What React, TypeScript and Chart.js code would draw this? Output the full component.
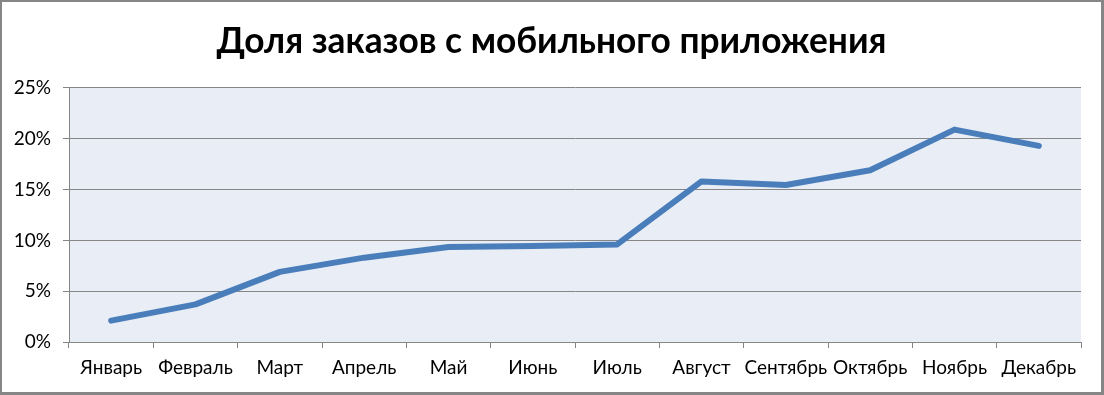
import React, { useEffect, useRef } from "react";
import { Chart, registerables } from "chart.js";

Chart.register(...registerables);

const titleText = "Доля заказов с мобильного приложения";
const months = [
  "Январь", "Февраль", "Март", "Апрель", "Май", "Июнь",
  "Июль", "Август", "Сентябрь", "Октябрь", "Ноябрь", "Декабрь",
];
const sharePercent = [2.1, 3.7, 6.9, 8.3, 9.35, 9.45, 9.6, 15.8, 15.45, 16.9, 20.9, 19.3];
const yMin = 0;
const yMax = 25;
const yStep = 5;

const W = 1099;
const H = 390;

const plotBg = {
  id: "plotBg",
  beforeDraw(chart: any) {
    const { ctx, chartArea } = chart;
    ctx.save();
    ctx.fillStyle = "#E9EDF5";
    ctx.fillRect(chartArea.left, chartArea.top, chartArea.right - chartArea.left, chartArea.bottom - chartArea.top);
    ctx.restore();
  },
};

export default function App() {
  const ref = useRef<HTMLCanvasElement | null>(null);
  useEffect(() => {
    if (!ref.current) return;
    const chart = new Chart(ref.current, {
      type: "line",
      data: {
        labels: months,
        datasets: [
          {
            data: sharePercent,
            borderColor: "#4A7EBB",
            backgroundColor: "#4A7EBB",
            borderWidth: 6,
            borderJoinStyle: "round",
            borderCapStyle: "round",
            pointRadius: 0,
            tension: 0,
            fill: false,
          },
        ],
      },
      options: {
        responsive: false,
        animation: false,
        devicePixelRatio: 1,
        layout: { padding: 0 },
        plugins: {
          legend: { display: false },
          tooltip: { enabled: false },
          title: {
            display: true,
            text: titleText,
            color: "#000",
            font: { family: "Lato", size: 35.3, weight: "bold", lineHeight: 1.2 },
            padding: { top: 18, bottom: 25.6 },
          },
        },
        scales: {
          x: {
            offset: true,
            grid: {
              offset: true,
              drawOnChartArea: false,
              drawTicks: true,
              tickLength: 6,
              color: "#868686",
            },
            border: { display: true, color: "#868686", width: 1 },
            ticks: {
              color: "#000",
              font: { family: "Lato", size: 19 },
              padding: 8,
              maxRotation: 0,
              autoSkip: false,
            },
            afterFit(scale: any) {
              scale.height = 50;
            },
          },
          y: {
            min: yMin,
            max: yMax,
            grid: { color: "#868686", tickLength: 6, lineWidth: 1 },
            border: { display: true, color: "#868686", width: 1 },
            ticks: {
              stepSize: yStep,
              color: "#000",
              font: { family: "Lato", size: 19 },
              padding: 12,
              callback: (v: any) => `${v}%`,
            },
            afterFit(scale: any) {
              scale.width = 67;
            },
          },
          yRight: {
            position: "right",
            min: yMin,
            max: yMax,
            grid: { display: false, drawTicks: false },
            border: { display: false },
            ticks: { display: false },
            afterFit(scale: any) {
              scale.width = 20;
            },
          },
        },
      },
      plugins: [plotBg],
    });
    return () => chart.destroy();
  }, []);

  return (
    <div
      style={{
        position: "absolute",
        left: 0,
        top: 0,
        width: 1104,
        height: 395,
        boxSizing: "border-box",
        borderStyle: "solid",
        borderColor: "#868686",
        borderWidth: "2px 3px 3px 2px",
        background: "#fff",
      }}
    >
      <canvas ref={ref} width={W} height={H} style={{ display: "block", width: W, height: H }} />
    </div>
  );
}
